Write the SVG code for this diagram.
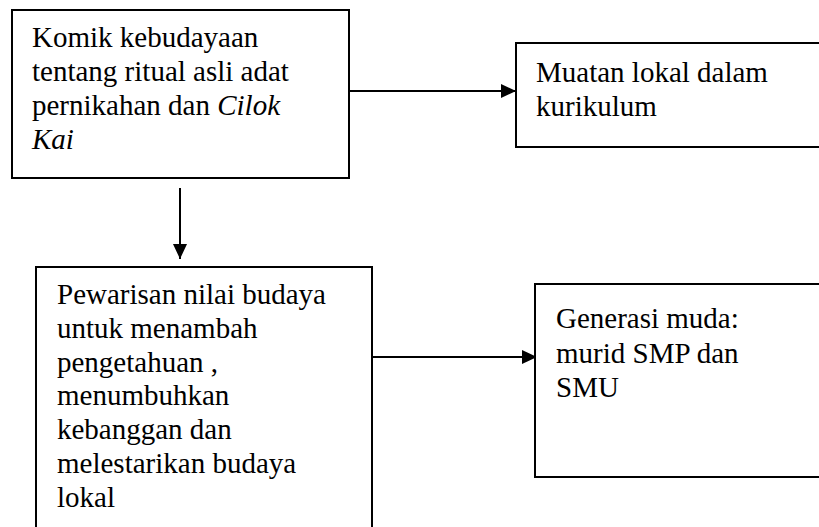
<svg xmlns="http://www.w3.org/2000/svg" width="819" height="527" viewBox="0 0 819 527">
<style>
.box{fill:#fff;stroke:#000;stroke-width:2}
.t{font-family:"Times New Roman","Liberation Serif",Tinos,"DejaVu Serif",serif;font-size:29px;fill:#000}
.i{font-style:italic}
.c{stroke:#000;stroke-width:2;fill:none}
</style>
<defs>
<marker id="ah" markerWidth="16" markerHeight="14" refX="15" refY="7" orient="auto" markerUnits="userSpaceOnUse">
<path d="M0,0 L15,7 L0,14 Z" fill="#000"/>
</marker>
</defs>
<rect width="819" height="527" fill="#fff"/>
<g id="connectors">
<line class="c" x1="349" y1="91" x2="516" y2="91" marker-end="url(#ah)"/>
<line class="c" x1="180" y1="188" x2="180" y2="259" marker-end="url(#ah)"/>
<line class="c" x1="372" y1="357" x2="537" y2="357" marker-end="url(#ah)"/>
</g>
<g id="node-komik">
<rect class="box" x="12" y="10" width="337" height="168"/>
<text class="t" x="32" y="47">Komik kebudayaan</text>
<text class="t" x="32" y="81">tentang ritual asli adat</text>
<text class="t" x="32" y="115">pernikahan dan <tspan class="i">Cilok</tspan></text>
<text class="t i" x="32" y="149">Kai</text>
</g>
<g id="node-muatan">
<rect class="box" x="516" y="43" width="320" height="104"/>
<text class="t" x="536" y="82">Muatan lokal dalam</text>
<text class="t" x="536" y="116">kurikulum</text>
</g>
<g id="node-pewarisan">
<rect class="box" x="36" y="267" width="336" height="280"/>
<text class="t" x="57" y="304">Pewarisan nilai budaya</text>
<text class="t" x="57" y="338">untuk menambah</text>
<text class="t" x="57" y="372">pengetahuan ,</text>
<text class="t" x="57" y="405">menumbuhkan</text>
<text class="t" x="57" y="439">kebanggan dan</text>
<text class="t" x="57" y="473">melestarikan budaya</text>
<text class="t" x="57" y="507">lokal</text>
</g>
<g id="node-generasi">
<rect class="box" x="535" y="284" width="320" height="193"/>
<text class="t" x="556" y="328">Generasi muda:</text>
<text class="t" x="556" y="363">murid SMP dan</text>
<text class="t" x="556" y="397">SMU</text>
</g>
</svg>
